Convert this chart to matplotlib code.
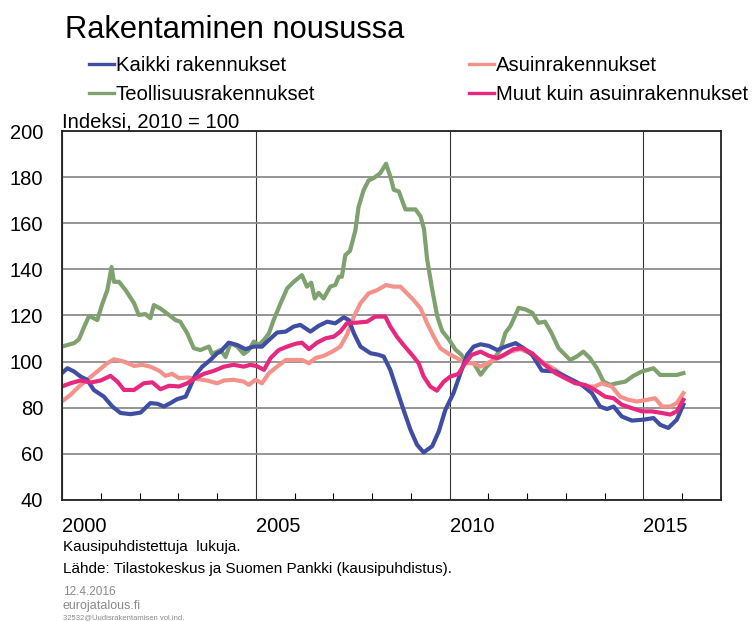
import matplotlib
matplotlib.use("Agg")
import matplotlib.pyplot as plt
from matplotlib.ticker import FixedLocator, NullFormatter
import numpy as np

plt.rcParams['font.family'] = ['Liberation Sans', 'DejaVu Sans']

#=============== data (index, 2010 = 100) ===============
kaikki_t = [2000.0, 2000.14, 2000.31, 2000.48, 2000.65, 2000.82, 2001.08, 2001.30, 2001.51,
            2001.77, 2002.03, 2002.28, 2002.46, 2002.63, 2002.80, 2002.97, 2003.19, 2003.31,
            2003.44, 2003.62, 2003.83, 2004.0, 2004.09, 2004.30, 2004.52, 2004.73, 2004.95,
            2005.16, 2005.34, 2005.55, 2005.77, 2005.98, 2006.15, 2006.41, 2006.62, 2006.84,
            2007.05, 2007.27, 2007.40, 2007.53, 2007.70, 2007.96, 2008.15, 2008.30, 2008.47,
            2008.64, 2008.81, 2008.99, 2009.16, 2009.33, 2009.55, 2009.72, 2009.89, 2010.10,
            2010.28, 2010.45, 2010.62, 2010.80, 2011.01, 2011.23, 2011.44, 2011.70, 2011.91,
            2012.13, 2012.38, 2012.73, 2013.07, 2013.41, 2013.67, 2013.88, 2014.06, 2014.23,
            2014.44, 2014.70, 2015.0, 2015.26, 2015.43, 2015.64, 2015.86, 2016.03]
kaikki = [95.0, 97.1, 95.7, 93.5, 92.1, 87.7, 84.8, 80.5, 77.7,
          77.2, 77.9, 82.0, 81.7, 80.5, 82.0, 83.7, 84.8, 89.2,
          94.2, 97.8, 100.7, 103.6, 104.3, 108.2, 107.2, 105.4, 106.5,
          106.5, 109.4, 112.6, 113.0, 115.2, 115.9, 113.0, 115.5, 117.3,
          116.6, 119.2, 118.0, 112.3, 106.5, 103.6, 103.0, 102.2, 96.4,
          87.7, 79.1, 70.4, 63.9, 60.6, 63.3, 69.7, 79.1, 86.3,
          95.0, 102.9, 106.5, 107.5, 106.8, 105.0, 106.5, 108.0, 105.8,
          102.9, 96.1, 95.7, 92.8, 89.9, 86.3, 80.5, 79.4, 80.5,
          76.2, 74.4, 74.8, 75.5, 72.6, 71.2, 74.8, 81.3]

asuin_t = [2000.0, 2000.22, 2000.44, 2000.65, 2000.91, 2001.17, 2001.34, 2001.60, 2001.86,
           2002.07, 2002.28, 2002.50, 2002.67, 2002.84, 2003.02, 2003.23, 2003.49, 2003.74,
           2004.0, 2004.18, 2004.43, 2004.69, 2004.82, 2004.99, 2005.16, 2005.34, 2005.55,
           2005.77, 2005.98, 2006.19, 2006.37, 2006.54, 2006.75, 2006.97, 2007.18, 2007.35,
           2007.53, 2007.70, 2007.91, 2008.13, 2008.36, 2008.56, 2008.73, 2008.90, 2009.07,
           2009.25, 2009.42, 2009.59, 2009.76, 2009.98, 2010.19, 2010.40, 2010.62, 2010.80,
           2010.97, 2011.13, 2011.35, 2011.57, 2011.82, 2012.08, 2012.38, 2012.73, 2012.98,
           2013.24, 2013.49, 2013.75, 2013.92, 2014.18, 2014.40, 2014.61, 2014.83, 2015.09,
           2015.30, 2015.48, 2015.69, 2015.86, 2016.03]
asuin = [82.7, 85.6, 89.2, 92.1, 95.7, 99.3, 101.0, 100.0, 98.1,
         98.6, 97.8, 96.1, 93.8, 94.7, 92.8, 93.1, 92.4, 91.8,
         90.6, 91.8, 92.1, 91.3, 89.9, 92.1, 90.6, 95.0, 97.8,
         100.7, 100.7, 100.7, 99.3, 101.5, 102.5, 104.3, 106.5, 111.6,
         119.5, 125.3, 129.6, 131.0, 133.2, 132.5, 132.5, 129.6, 126.7,
         123.1, 116.6, 110.8, 105.8, 103.3, 101.5, 99.3, 99.3, 97.8,
         99.3, 100.7, 102.2, 104.3, 105.4, 103.6, 100.0, 96.4, 93.5,
         91.3, 89.2, 89.2, 90.6, 89.2, 84.8, 83.4, 82.7, 83.4,
         84.1, 80.5, 80.5, 82.0, 86.3]

teoll_t = [2000.0, 2000.31, 2000.44, 2000.57, 2000.70, 2000.91, 2001.04, 2001.17, 2001.28,
           2001.34, 2001.47, 2001.64, 2001.86, 2001.98, 2002.15, 2002.28, 2002.37, 2002.54,
           2002.76, 2002.93, 2003.05, 2003.23, 2003.40, 2003.57, 2003.79, 2003.87, 2004.09,
           2004.22, 2004.35, 2004.52, 2004.69, 2004.82, 2004.95, 2005.08, 2005.21, 2005.34,
           2005.46, 2005.64, 2005.81, 2005.98, 2006.19, 2006.32, 2006.43, 2006.52, 2006.62,
           2006.75, 2006.92, 2007.05, 2007.14, 2007.22, 2007.31, 2007.43, 2007.57, 2007.65,
           2007.78, 2007.91, 2008.04, 2008.21, 2008.36, 2008.47, 2008.56, 2008.69, 2008.86,
           2009.12, 2009.25, 2009.34, 2009.42, 2009.55, 2009.68, 2009.81, 2009.98, 2010.15,
           2010.30, 2010.45, 2010.62, 2010.80, 2010.97, 2011.13, 2011.31, 2011.44, 2011.57,
           2011.78, 2011.96, 2012.13, 2012.29, 2012.46, 2012.63, 2012.81, 2012.98, 2013.11,
           2013.28, 2013.45, 2013.62, 2013.80, 2013.97, 2014.14, 2014.31, 2014.53, 2014.74,
           2014.96, 2015.26, 2015.43, 2015.64, 2015.86, 2016.03]
teoll = [106.5, 108.0, 109.7, 115.0, 119.8, 118.0, 125.0, 131.0, 141.0,
         134.6, 134.6, 131.0, 125.3, 120.2, 120.6, 118.8, 124.5, 123.0,
         120.2, 118.0, 117.3, 112.3, 105.8, 105.0, 106.5, 103.3, 105.0,
         102.0, 108.0, 106.5, 103.3, 105.0, 108.7, 107.2, 109.4, 112.3,
         118.0, 125.3, 131.8, 134.6, 137.5, 132.5, 134.2, 127.4, 129.8,
         127.4, 132.5, 133.2, 136.8, 136.8, 146.2, 148.0, 157.0, 167.0,
         174.3, 178.6, 179.6, 181.7, 185.8, 180.3, 174.5, 173.8, 166.0,
         166.0, 163.0, 157.4, 144.3, 131.3, 119.7, 113.2, 109.6, 105.2,
         103.0, 99.4, 99.4, 94.3, 98.0, 100.9, 105.2, 112.5, 115.4,
         123.3, 122.6, 121.2, 116.8, 117.3, 112.3, 105.8, 102.9, 100.7,
         102.2, 104.3, 101.5, 97.1, 91.3, 89.9, 90.6, 91.3, 93.8,
         95.7, 97.1, 94.2, 94.2, 94.2, 95.0]

muut_t = [2000.0, 2000.22, 2000.48, 2000.74, 2001.0, 2001.25, 2001.43, 2001.60, 2001.86,
          2002.11, 2002.33, 2002.54, 2002.76, 2003.02, 2003.23, 2003.44, 2003.66, 2003.92,
          2004.18, 2004.43, 2004.69, 2004.86, 2005.03, 2005.21, 2005.38, 2005.59, 2005.81,
          2006.02, 2006.19, 2006.37, 2006.58, 2006.80, 2007.01, 2007.18, 2007.35, 2007.61,
          2007.87, 2008.08, 2008.34, 2008.47, 2008.64, 2008.81, 2009.03, 2009.20, 2009.33,
          2009.50, 2009.67, 2009.85, 2010.02, 2010.23, 2010.40, 2010.57, 2010.80, 2011.01,
          2011.23, 2011.44, 2011.65, 2011.86, 2012.13, 2012.38, 2012.73, 2012.98, 2013.24,
          2013.49, 2013.75, 2014.01, 2014.23, 2014.44, 2014.70, 2014.96, 2015.22, 2015.48,
          2015.69, 2015.86, 2016.03]
muut = [89.2, 90.6, 91.8, 90.9, 91.8, 93.8, 91.3, 87.7, 87.7,
        90.6, 91.0, 88.0, 89.5, 89.2, 90.6, 92.8, 94.7, 96.0,
        97.8, 98.6, 97.8, 98.6, 98.0, 96.4, 101.5, 105.0, 106.5,
        107.7, 108.2, 105.4, 108.2, 110.1, 110.8, 113.0, 116.6, 116.9,
        117.3, 119.5, 119.5, 115.2, 110.8, 107.2, 102.9, 99.3, 93.5,
        89.2, 87.4, 91.3, 93.5, 94.7, 99.3, 102.9, 104.3, 102.5,
        101.5, 103.3, 105.4, 105.8, 103.6, 99.6, 95.0, 92.8, 90.6,
        89.9, 87.7, 84.8, 84.1, 81.3, 79.8, 78.4, 78.4, 77.7,
        77.0, 78.4, 83.4]

labels = ['Kaikki rakennukset', 'Teollisuusrakennukset',
          'Asuinrakennukset', 'Muut kuin asuinrakennukset']
colors = ['#3f4ea3', '#7fa06f', '#f3928b', '#e6287f']
year_ticks = [2000, 2005, 2010, 2015]
y_ticks = [40, 60, 80, 100, 120, 140, 160, 180, 200]

#=============== figure ===============
fig = plt.figure(figsize=(7.54, 6.21), dpi=100)
ax = fig.add_axes([0.0822, 0.195, 0.874, 0.594])

lw = 3.0
l_teoll, = ax.plot(teoll_t, teoll, color=colors[1], lw=lw, solid_joinstyle='round')
l_asuin, = ax.plot(asuin_t, asuin, color=colors[2], lw=lw, solid_joinstyle='round')
l_kaikki, = ax.plot(kaikki_t, kaikki, color=colors[0], lw=lw, solid_joinstyle='round')
l_muut, = ax.plot(muut_t, muut, color=colors[3], lw=lw, solid_joinstyle='round')

ax.set_xlim(2000, 2017)
ax.set_ylim(40, 200)
ax.set_yticks(y_ticks)
ax.set_yticklabels([str(v) for v in y_ticks], fontsize=14.5)
ax.set_xticks(year_ticks)
ax.set_xticklabels([str(v) for v in year_ticks], fontsize=14.5, ha='left')
ax.xaxis.set_minor_locator(FixedLocator(np.arange(2001, 2017)))
ax.xaxis.set_minor_formatter(NullFormatter())
ax.tick_params(axis='x', which='minor', direction='in', length=5, width=0.8)
ax.tick_params(axis='x', which='major', direction='in', length=0, pad=12)
ax.tick_params(axis='y', which='major', length=0, pad=13.5)

ax.grid(axis='y', color='#8c8c8c', lw=1.3)
ax.grid(axis='x', which='major', color='#333333', lw=0.8)
ax.set_axisbelow(True)
for s in ax.spines.values():
    s.set_linewidth(1.3)
    s.set_color('#222222')

ax.text(0.0, 1.0, 'Indeksi, 2010 = 100', transform=ax.transAxes,
        fontsize=14.6, ha='left', va='bottom')

fig.text(0.086, 0.951, 'Rakentaminen nousussa', fontsize=22.2, ha='left', va='center')

leg = fig.legend([l_kaikki, l_teoll, l_asuin, l_muut], labels, ncol=2,
                 loc='upper left', bbox_to_anchor=(0.118, 0.91), frameon=False,
                 fontsize=14.6, handlelength=1.25, handletextpad=0.08,
                 columnspacing=7.55, labelspacing=0.5, borderaxespad=0, borderpad=0)
for h in leg.get_lines():
    h.set_linewidth(2.4)

fig.text(0.083, 0.119, 'Kausipuhdistettuja  lukuja.', fontsize=11, ha='left', va='center')
fig.text(0.083, 0.084, 'Lähde: Tilastokeskus ja Suomen Pankki (kausipuhdistus).',
         fontsize=11, ha='left', va='center')
fig.text(0.083, 0.047, '12.4.2016', fontsize=8.5, color='#8a8a8a', ha='left', va='center')
fig.text(0.083, 0.024, 'eurojatalous.fi', fontsize=9, color='#8a8a8a', ha='left', va='center')
fig.text(0.083, 0.006, '32532@Uudisrakentamisen vol.ind.', fontsize=5.5, color='#8a8a8a',
         ha='left', va='center')

fig.savefig('out.png', dpi=100)
